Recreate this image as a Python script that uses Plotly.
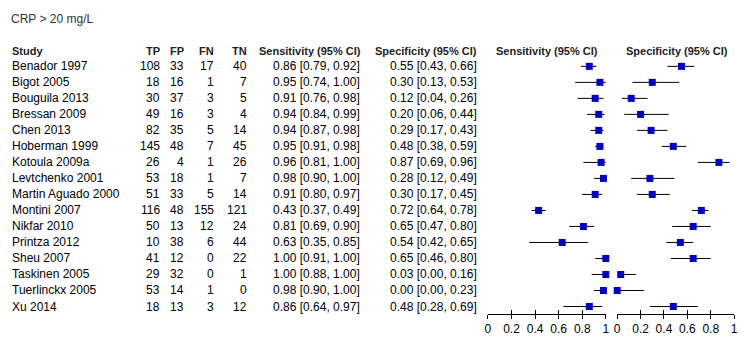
import plotly.graph_objects as go

title = "CRP > 20 mg/L"
studies = ["Benador 1997", "Bigot 2005", "Bouguila 2013", "Bressan 2009", "Chen 2013",
           "Hoberman 1999", "Kotoula 2009a", "Levtchenko 2001", "Martin Aguado 2000",
           "Montini 2007", "Nikfar 2010", "Printza 2012", "Sheu 2007", "Taskinen 2005",
           "Tuerlinckx 2005", "Xu 2014"]
tp = [108, 18, 30, 49, 82, 145, 26, 53, 51, 116, 50, 10, 41, 29, 53, 18]
fp = [33, 16, 37, 16, 35, 48, 4, 18, 33, 48, 13, 38, 12, 32, 14, 13]
fn = [17, 1, 3, 3, 5, 7, 1, 1, 5, 155, 12, 6, 0, 0, 1, 3]
tn = [40, 7, 5, 4, 14, 45, 26, 7, 14, 121, 24, 44, 22, 1, 0, 12]
sens = [0.86, 0.95, 0.91, 0.94, 0.94, 0.95, 0.96, 0.98, 0.91, 0.43, 0.81, 0.63, 1.00, 1.00, 0.98, 0.86]
sens_lo = [0.79, 0.74, 0.76, 0.84, 0.87, 0.91, 0.81, 0.90, 0.80, 0.37, 0.69, 0.35, 0.91, 0.88, 0.90, 0.64]
sens_hi = [0.92, 1.00, 0.98, 0.99, 0.98, 0.98, 1.00, 1.00, 0.97, 0.49, 0.90, 0.85, 1.00, 1.00, 1.00, 0.97]
spec = [0.55, 0.30, 0.12, 0.20, 0.29, 0.48, 0.87, 0.28, 0.30, 0.72, 0.65, 0.54, 0.65, 0.03, 0.00, 0.48]
spec_lo = [0.43, 0.13, 0.04, 0.06, 0.17, 0.38, 0.69, 0.12, 0.17, 0.64, 0.47, 0.42, 0.46, 0.00, 0.00, 0.28]
spec_hi = [0.66, 0.53, 0.26, 0.44, 0.43, 0.59, 0.96, 0.49, 0.45, 0.78, 0.80, 0.65, 0.80, 0.16, 0.23, 0.69]
tick_vals = [0, 0.2, 0.4, 0.6, 0.8, 1]
tick_text = ["0", "0.2", "0.4", "0.6", "0.8", "1"]

W, H = 749, 340
FONT = "Liberation Sans, Arial, sans-serif"
rows = list(range(len(studies)))

def px(x):
    return x / W

def py(y):
    return 1 - y / H

fig = go.Figure()

def forest(est, lo, hi, xa):
    fig.add_trace(go.Scatter(
        x=est, y=rows, xaxis=xa, yaxis="y", mode="markers",
        marker=dict(symbol="square", size=7, color="#0000C0", line=dict(width=0)),
        error_x=dict(type="data", symmetric=False,
                     array=[h - e for e, h in zip(est, hi)],
                     arrayminus=[e - l for e, l in zip(est, lo)],
                     color="black", thickness=1, width=0),
        cliponaxis=False, showlegend=False, hoverinfo="skip"))

forest(sens, sens_lo, sens_hi, "x")
forest(spec, spec_lo, spec_hi, "x2")
# empty traces for the overlay axes (inside half of crossing ticks)
fig.add_trace(go.Scatter(x=[], y=[], xaxis="x3", yaxis="y", showlegend=False))
fig.add_trace(go.Scatter(x=[], y=[], xaxis="x4", yaxis="y", showlegend=False))

ann = []
def add(text, x, y, anchor, size=12, bold=False, yref="y", color="black"):
    ann.append(dict(text=f"<b>{text}</b>" if bold else text, x=x, y=y, xref="paper", yref=yref,
                    xanchor=anchor, yanchor="middle", showarrow=False,
                    font=dict(family=FONT, size=size, color=color)))

HDR = -0.975
add(title, px(6), py(19), "left", size=12, yref="paper", color="#333333")
add("Study", px(7), HDR, "left", size=11, bold=True, color="#222222")
cols = [("TP", tp, 161), ("FP", fp, 185), ("FN", fn, 215.5), ("TN", tn, 248)]
for name, vals, xr in cols:
    add(name, px(xr), HDR, "right", size=11, bold=True, color="#222222")
    for i, v in enumerate(vals):
        add(str(v), px(xr), i, "right")
add("Sensitivity (95% CI)", px(363), HDR, "right", size=11, bold=True, color="#222222")
add("Specificity (95% CI)", px(480), HDR, "right", size=11, bold=True, color="#222222")
for i in rows:
    add(studies[i], px(7), i, "left")
    add(f"{sens[i]:.2f} [{sens_lo[i]:.2f}, {sens_hi[i]:.2f}]", px(362), i, "right")
    add(f"{spec[i]:.2f} [{spec_lo[i]:.2f}, {spec_hi[i]:.2f}]", px(480), i, "right")
add("Sensitivity (95% CI)", px(549.5), HDR, "center", size=11, bold=True, color="#222222")
add("Specificity (95% CI)", px(680), HDR, "center", size=11, bold=True, color="#222222")

axis_common = dict(range=[0, 1], tickvals=tick_vals, ticktext=tick_text, showgrid=False,
                   zeroline=False, showline=True, linecolor="black", linewidth=1,
                   ticks="outside", ticklen=4, tickwidth=1, tickcolor="black",
                   tickfont=dict(family=FONT, size=12, color="black"), anchor="y",
                   fixedrange=True)
overlay_common = dict(range=[0, 1], tickvals=tick_vals, showgrid=False, zeroline=False,
                      showline=False, ticks="inside", ticklen=4, tickwidth=1, tickcolor="black",
                      showticklabels=False, anchor="y", fixedrange=True)

fig.update_layout(
    width=W, height=H, margin=dict(l=0, r=0, t=0, b=0),
    paper_bgcolor="white", plot_bgcolor="white",
    xaxis=dict(domain=[px(489.5), px(608.5)], **axis_common),
    xaxis2=dict(domain=[px(620), px(738)], **axis_common),
    xaxis3=dict(overlaying="x", **overlay_common),
    xaxis4=dict(overlaying="x2", **overlay_common),
    yaxis=dict(domain=[(H - 313.5) / H, 1], range=[15.4375, -4.144], visible=False,
               fixedrange=True),
    annotations=ann,
)
fig.write_html("out.html", config={"displayModeBar": False},
               post_script="document.body.style.margin='0';")
